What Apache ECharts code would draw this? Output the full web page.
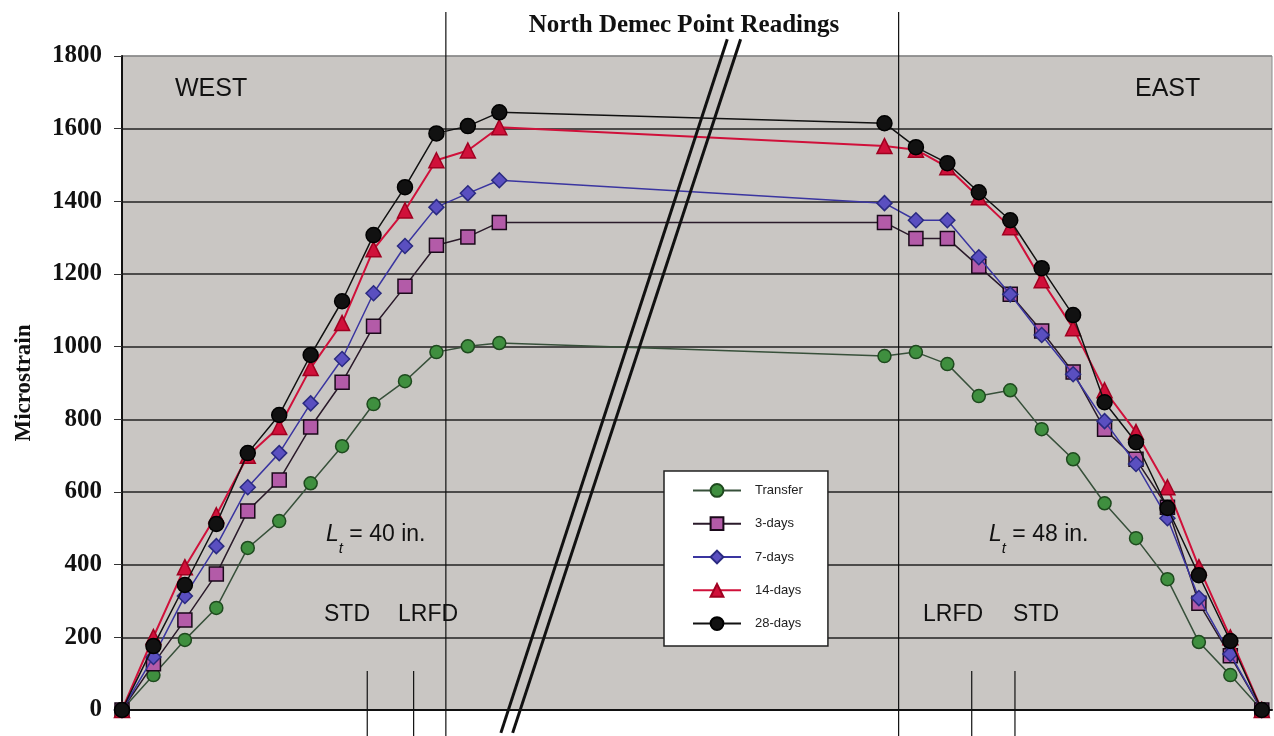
<!DOCTYPE html>
<html>
<head>
<meta charset="utf-8">
<script src="https://cdn.jsdelivr.net/npm/echarts@6/dist/echarts.min.js"></script>
<style>
  html, body { margin: 0; padding: 0; background: #fff; }
  #chart { width: 1274px; height: 736px; }
</style>
</head>
<body>
<div id="chart"></div>
<script>
// gauge positions (in.) - west end and east end of the beam
const westX = [0, 4, 8, 12, 16, 20, 24, 28, 32, 36, 40, 44, 48];
const eastX = [97, 101, 105, 109, 113, 117, 121, 125, 129, 133, 137, 141, 145];

// microstrain readings, west points then east points
const transfer = [0, 96, 193, 281, 446, 520, 624, 726, 842, 905, 985, 1001, 1010,
                  974, 985, 952, 864, 880, 773, 690, 569, 473, 360, 187, 96, 0];
const days3 = [0, 127, 248, 374, 548, 633, 779, 902, 1056, 1166, 1279, 1302, 1342,
               1342, 1298, 1298, 1221, 1144, 1043, 930, 773, 690, 558, 294, 149, 0];
const days7 = [0, 146, 314, 451, 613, 707, 844, 966, 1147, 1277, 1384, 1422, 1458,
               1395, 1348, 1348, 1246, 1144, 1032, 924, 795, 677, 528, 308, 154, 0];
const days14 = [0, 201, 393, 536, 700, 779, 941, 1065, 1268, 1375, 1513, 1540, 1604,
                1552, 1542, 1494, 1411, 1329, 1183, 1051, 880, 765, 613, 393, 200, 0];
const days28 = [0, 176, 344, 512, 707, 812, 977, 1125, 1307, 1439, 1587, 1607, 1645,
                1615, 1549, 1505, 1425, 1348, 1216, 1087, 847, 737, 556, 371, 190, 0];

const seriesNames = ['Transfer', '3-days', '7-days', '14-days', '28-days'];
const yTicks = [0, 200, 400, 600, 800, 1000, 1200, 1400, 1600, 1800];

// annotation positions (in.)
const mainLinesX = [41.2, 98.8];
const shortLinesX = [31.2, 37.1, 108.1, 113.6];
const breakLines = [
  [[77.0, 1846], [48.2, -63]],
  [[78.7, 1846], [49.7, -63]]
];

const xPos = westX.concat(eastX);
const pairs = vals => vals.map((v, i) => [xPos[i], v]);

const chartDom = document.getElementById('chart');
const myChart = echarts.init(chartDom);

const styles = [
  { symbol: 'circle', size: 13, fill: '#3f8f3f', border: '#1e4a1e', line: '#37503a', width: 1.5 },
  { symbol: 'rect', size: 14, fill: '#b35ba8', border: '#1a0a1a', line: '#2a1a2a', width: 1.5 },
  { symbol: 'diamond', size: 15, fill: '#5a4fc0', border: '#2a2a80', line: '#3a35a0', width: 1.5 },
  { symbol: 'triangle', size: 15, fill: '#d0103a', border: '#a00020', line: '#d0103a', width: 2 },
  { symbol: 'circle', size: 15, fill: '#111', border: '#000', line: '#111', width: 1.5 }
];
const allData = [transfer, days3, days7, days14, days28];

const option = {
  animation: false,
  backgroundColor: '#fff',
  title: {
    text: 'North Demec Point Readings',
    left: 679,
    textAlign: 'center',
    top: 8,
    textStyle: { fontFamily: 'Liberation Serif', fontWeight: 'bold', fontSize: 25, color: '#111' }
  },
  grid: {
    left: 122, right: 2, top: 56, bottom: 26,
    containLabel: false, outerBoundsMode: 'none',
    show: true, backgroundColor: '#c9c6c3', borderColor: '#8a8a8a', borderWidth: 1
  },
  legend: {
    orient: 'vertical',
    left: 664, top: 471,
    data: seriesNames,
    itemWidth: 48, itemHeight: 16, itemGap: 18.5,
    padding: [12, 25, 15, 28],
    backgroundColor: '#fff', borderColor: '#222', borderWidth: 1.5, borderRadius: 0,
    textStyle: { fontFamily: 'Liberation Sans', fontSize: 13, color: '#222', padding: [0, 0, 0, 9] }
  },
  xAxis: {
    type: 'value', min: 0, max: 146.3,
    axisLine: { show: true, onZero: false, lineStyle: { color: '#111', width: 2 } },
    axisTick: { show: false }, axisLabel: { show: false }, splitLine: { show: false }
  },
  yAxis: {
    type: 'value', min: yTicks[0], max: yTicks[yTicks.length - 1], interval: 200,
    name: 'Microstrain', nameLocation: 'middle', nameGap: 86, nameRotate: 90,
    nameTextStyle: { fontFamily: 'Liberation Serif', fontWeight: 'bold', fontSize: 23, color: '#111' },
    axisLine: { show: true, lineStyle: { color: '#111', width: 2 } },
    axisTick: { show: true, length: 8, lineStyle: { color: '#333', width: 1 } },
    axisLabel: {
      margin: 20, fontFamily: 'Liberation Serif', fontWeight: 'bold', fontSize: 25, color: '#111',
      formatter: v => String(v)
    },
    splitLine: {
      show: true,
      lineStyle: { color: ['#111', '#222', '#222', '#222', '#222', '#222', '#222', '#222', '#222', '#888'], width: 1.5 }
    }
  },
  series: seriesNames.map((name, k) => ({
    name: name,
    type: 'line',
    data: pairs(allData[k]),
    symbol: styles[k].symbol,
    symbolSize: styles[k].size,
    itemStyle: { color: styles[k].fill, borderColor: styles[k].border, borderWidth: 1.5 },
    lineStyle: { color: styles[k].line, width: styles[k].width },
    z: 3 + k
  }))
};

myChart.setOption(option);

// annotations drawn on top, placed from data coordinates
const px = p => myChart.convertToPixel({ gridIndex: 0 }, p);
const lineEl = (x1, y1, x2, y2, w) => ({
  type: 'line', z: 20, silent: true,
  shape: { x1: x1, y1: y1, x2: x2, y2: y2 },
  style: { stroke: '#111', lineWidth: w }
});
const textEl = (x, y, str, extra) => ({
  type: 'text', z: 20, silent: true, x: x, y: y,
  style: Object.assign({
    text: str, fill: '#111', font: '25px "Liberation Sans"', verticalAlign: 'middle'
  }, extra || {})
});
const ltText = (x, y, inches) => ({
  type: 'text', z: 20, silent: true, x: x, y: y,
  style: {
    text: '{l|L}{s|t}{n| = ' + inches + ' in.}',
    verticalAlign: 'middle',
    rich: {
      l: { fontFamily: 'Liberation Sans', fontStyle: 'italic', fontSize: 23, fill: '#111' },
      s: { fontFamily: 'Liberation Sans', fontStyle: 'italic', fontSize: 15, fill: '#111', verticalAlign: 'bottom', padding: [0, 0, -10, 0] },
      n: { fontFamily: 'Liberation Sans', fontSize: 23, fill: '#111' }
    }
  }
});

const graphics = [];
mainLinesX.forEach(x => {
  const p = px([x, 0]);
  graphics.push(lineEl(p[0], 12, p[0], 736, 1.2));
});
shortLinesX.forEach(x => {
  const p = px([x, 0]);
  graphics.push(lineEl(p[0], 671, p[0], 736, 1.2));
});
breakLines.forEach(b => {
  const a = px(b[0]), c = px(b[1]);
  graphics.push(lineEl(a[0], a[1], c[0], c[1], 3));
});
graphics.push(textEl(175, 89, 'WEST'));
graphics.push(textEl(1135, 89, 'EAST'));
graphics.push(textEl(324, 615, 'STD', { font: '23px "Liberation Sans"' }));
graphics.push(textEl(398, 615, 'LRFD', { font: '23px "Liberation Sans"' }));
graphics.push(textEl(923, 615, 'LRFD', { font: '23px "Liberation Sans"' }));
graphics.push(textEl(1013, 615, 'STD', { font: '23px "Liberation Sans"' }));
graphics.push(ltText(326, 535, 40));
graphics.push(ltText(989, 535, 48));

myChart.setOption({ graphic: graphics });
</script>
</body>
</html>
